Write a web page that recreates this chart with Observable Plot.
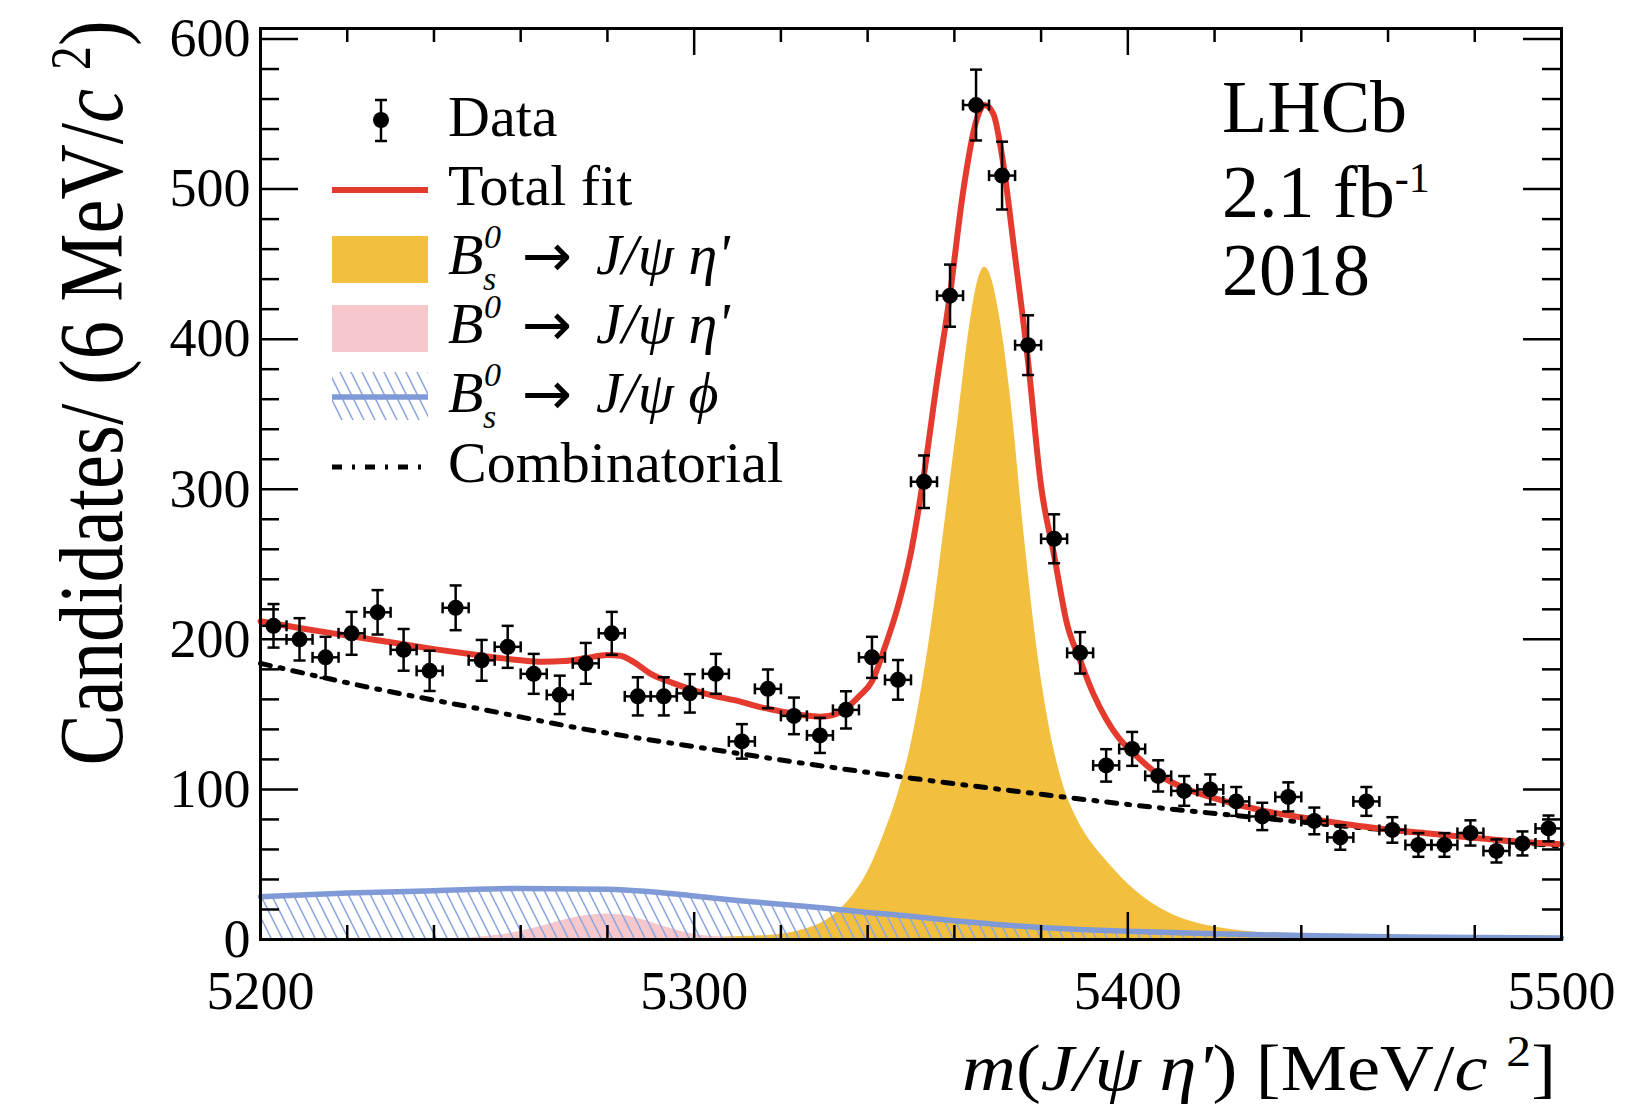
<!DOCTYPE html>
<html>
<head>
<meta charset="utf-8">
<script src="https://cdn.jsdelivr.net/npm/d3@7"></script>
<script src="https://cdn.jsdelivr.net/npm/@observablehq/plot@0.6"></script>
<style>
  html, body { margin: 0; padding: 0; background: #fff; }
  #chart { width: 1635px; height: 1106px; }
</style>
</head>
<body>
<div id="chart"></div>
<script>
// ---------------- data ----------------
const massBins = [5203,5209,5215,5221,5227,5233,5239,5245,5251,5257,5263,5269,5275,5281,5287,5293,5299,5305,5311,5317,5323,5329,5335,5341,5347,5353,5359,5365,5371,5377,5383,5389,5395,5401,5407,5413,5419,5425,5431,5437,5443,5449,5455,5461,5467,5473,5479,5485,5491,5497];
const candidates = [209,200,188,204,218,193,179,221,186,195,177,163,184,204,162,162,164,177,132,167,149,136,153,188,173,305,429,556,509,396,267,191,116,127,109,99,100,92,82,95,79,68,92,73,63,63,71,59,64,74];
const candErr = [14.5,14.1,13.7,14.3,14.8,13.9,13.4,14.9,13.6,14.0,13.3,12.8,13.6,14.3,12.7,12.7,12.8,13.3,11.5,12.9,12.2,11.7,12.4,13.7,13.2,17.5,20.7,23.6,22.6,19.9,16.3,13.8,10.8,11.3,10.4,9.9,10.0,9.6,9.1,9.7,8.9,8.2,9.6,8.5,7.9,7.9,8.4,7.7,8.0,8.6];
const binHalfWidth = 3;

const totalX = [5200,5210,5220,5230,5240,5250,5260,5265,5270,5275,5280,5283,5286,5290,5295,5300,5305,5310,5315,5320,5325,5329,5332,5335,5338,5341,5344,5347,5350,5353,5356,5359,5362,5365,5367,5369,5371,5374,5377,5380,5383,5386,5389,5392,5395,5398,5401,5407,5413,5419,5425,5431,5443,5450,5461,5470,5479,5491,5500];
const totalY = [212,207,202.5,198,193.5,189.5,186,185,185.5,187.5,189.5,189,185,177,171,166,162,159,155,152,149.5,148.5,149.5,154,162,172,195,222,258,310,372,430,498,545,556,550,522,455,385,302,256,210,186,164,147,134,125,110,101,95,90,86,80,77,73,70.5,68,65,63.5];

const signalX = [5290,5300,5310,5316,5320,5325,5330,5334,5337,5340,5344,5347,5350,5354,5358,5361,5364,5365.5,5367,5368.5,5370,5373,5376,5379,5382,5385,5388,5391,5394,5398,5402,5408,5413,5418,5425,5431,5440,5450,5460,5480,5500];
const signalY = [0.5,1,2,2.5,3.5,6.5,12,21,31,45,72,97,130,195,282,350,418,440,448,441,422,360,272,195,140,104,82,67,56,43,32,20,13.5,9.5,6.2,4.5,2.8,1.8,1.2,0.6,0.3];

const b0X = [5240,5250,5255,5260,5265,5270,5275,5280,5285,5290,5295,5300,5305,5310,5320];
const b0Y = [0.3,1.5,3,5.5,9,13,16,17,15.5,11.5,7,3.5,1.8,0.8,0.2];

const phiX = [5200,5220,5240,5260,5280,5290,5300,5310,5320,5330,5340,5350,5360,5370,5380,5390,5400,5420,5440,5460,5480,5500];
const phiY = [28.5,31,32.5,34,33.5,31.8,29,26,23.5,21,18,15.5,12.5,10,8,6.5,5.5,3.8,2.7,1.9,1.3,1];

const combX = [5200,5225,5250,5275,5300,5325,5350,5375,5400,5425,5450,5475,5500];
const combY = [184,168,154,140,128.5,117.5,107.5,98.5,90,82.5,75.5,69,62];

const xTickLabels = [5200,5300,5400,5500];
const yTickLabels = [0,100,200,300,400,500,600];
const legendLabels = ["Data","Total fit","B_s^0 → J/ψ η'","B^0 → J/ψ η'","B_s^0 → J/ψ ϕ","Combinatorial"];

// ---------------- tables ----------------
const points = massBins.map((m, i) => ({m, n: candidates[i], e: candErr[i]}));
const toXY = (xs, ys) => xs.map((x, i) => ({x, y: ys[i]}));
const total = toXY(totalX, totalY);
const signal = toXY(signalX, signalY);
const b0 = toXY(b0X, b0Y);
const phi = toXY(phiX, phiY);
const comb = toXY(combX, combY);

const xMinor = d3.range(5220, 5500, 20).filter(v => v % 100 !== 0);
const yMinor = d3.range(20, 607, 20).filter(v => v % 100 !== 0);

// ---------------- layout ----------------
const W = 1635, H = 1106;
const mL = 260, mR = 74, mT = 28, mB = 167;
const plotW = W - mL - mR, plotH = H - mT - mB;
const FONT = "'Liberation Serif', 'Times New Roman', serif";
const ARROWFONT = "'DejaVu Sans', sans-serif";

const RED = "#e53b2e", YEL = "#f3bf3f", PINK = "#f6c8cb", BLUE = "#7f9ad6", HATCH = "#8ea6de";

const capH = {draw(ctx) { ctx.moveTo(-6, 0); ctx.lineTo(6, 0); }};
const capV = {draw(ctx) { ctx.moveTo(0, -5.5); ctx.lineTo(0, 5.5); }};

const svg = Plot.plot({
  width: W, height: H,
  marginLeft: mL, marginRight: mR, marginTop: mT, marginBottom: mB,
  x: {domain: [5200, 5500]},
  y: {domain: [0, 607]},
  style: {fontFamily: FONT, background: "white", color: "black"},
  marks: [
    Plot.areaY(signal, {x: "x", y: "y", fill: YEL, curve: "monotone-x"}),
    Plot.areaY(b0, {x: "x", y: "y", fill: PINK, curve: "monotone-x"}),
    Plot.areaY(phi, {x: "x", y: "y", fill: "url(#hatchPhi)", curve: "monotone-x"}),
    Plot.lineY(phi, {x: "x", y: "y", stroke: BLUE, strokeWidth: 5.5, curve: "monotone-x"}),
    Plot.lineY(comb, {x: "x", y: "y", stroke: "black", strokeWidth: 5, strokeDasharray: "10,10,3,10", curve: "monotone-x"}),
    Plot.lineY(total, {x: "x", y: "y", stroke: RED, strokeWidth: 6, curve: "monotone-x", strokeLinejoin: "round"}),
    // data error bars
    Plot.ruleX(points, {x: "m", y1: d => d.n - d.e, y2: d => d.n + d.e, stroke: "black", strokeWidth: 2.5}),
    Plot.ruleY(points, {y: "n", x1: d => d.m - binHalfWidth, x2: d => d.m + binHalfWidth, stroke: "black", strokeWidth: 2.5}),
    Plot.dot(points, {x: "m", y: d => d.n + d.e, symbol: capH, stroke: "black", strokeWidth: 2.5, fill: "none"}),
    Plot.dot(points, {x: "m", y: d => d.n - d.e, symbol: capH, stroke: "black", strokeWidth: 2.5, fill: "none"}),
    Plot.dot(points, {x: d => d.m - binHalfWidth, y: "n", symbol: capV, stroke: "black", strokeWidth: 2.5, fill: "none"}),
    Plot.dot(points, {x: d => d.m + binHalfWidth, y: "n", symbol: capV, stroke: "black", strokeWidth: 2.5, fill: "none"}),
    Plot.dot(points, {x: "m", y: "n", r: 8, fill: "black", stroke: "none"}),
    // inward ticks on all four sides
    Plot.ruleX(xTickLabels, {x: d => d, insetTop: plotH - 27, stroke: "black", strokeWidth: 2.5}),
    Plot.ruleX(xTickLabels, {x: d => d, insetBottom: plotH - 27, stroke: "black", strokeWidth: 2.5}),
    Plot.ruleX(xMinor, {x: d => d, insetTop: plotH - 14, stroke: "black", strokeWidth: 2.5}),
    Plot.ruleX(xMinor, {x: d => d, insetBottom: plotH - 14, stroke: "black", strokeWidth: 2.5}),
    Plot.ruleY(yTickLabels, {y: d => d, insetRight: plotW - 38, stroke: "black", strokeWidth: 2.5}),
    Plot.ruleY(yTickLabels, {y: d => d, insetLeft: plotW - 38, stroke: "black", strokeWidth: 2.5}),
    Plot.ruleY(yMinor, {y: d => d, insetRight: plotW - 19, stroke: "black", strokeWidth: 2.5}),
    Plot.ruleY(yMinor, {y: d => d, insetLeft: plotW - 19, stroke: "black", strokeWidth: 2.5}),
    Plot.frame({stroke: "black", strokeWidth: 3}),
    Plot.axisX({ticks: xTickLabels, tickSize: 0, tickPadding: 31, fontSize: 54, fontFamily: FONT, tickFormat: d => String(d), label: null}),
    Plot.axisY({ticks: yTickLabels, tickSize: 0, tickPadding: 10, fontSize: 54, fontFamily: FONT, tickFormat: d => String(d), label: null})
  ]
});

document.getElementById("chart").append(svg);
const S = d3.select(svg);

// hatch pattern for B_s -> J/psi phi
const defs = S.insert("defs", ":first-child");
const pat = defs.append("pattern").attr("id", "hatchPhi")
  .attr("patternUnits", "userSpaceOnUse").attr("width", 11).attr("height", 22);
pat.append("path").attr("d", "M0,0L11,22M-11,0L0,22M11,0L22,22")
  .attr("stroke", HATCH).attr("stroke-width", 1.6).attr("fill", "none");

// rich text helper
function rich(parent, parts, attrs = {}) {
  const t = parent.append("text").attr("font-family", FONT).attr("fill", "black").attr("text-anchor", "start");
  for (const [k, v] of Object.entries(attrs)) t.attr(k, v);
  for (const p of parts) {
    const s = t.append("tspan").text(p.t);
    if (p.it) s.attr("font-style", "italic");
    if (p.size) s.attr("font-size", p.size);
    if (p.ff) s.attr("font-family", p.ff);
    if (p.x != null) s.attr("x", p.x);
    if (p.y != null) s.attr("y", p.y);
    if (p.dy != null) s.attr("dy", p.dy);
  }
  return t;
}

// ---------------- legend ----------------
const L = S.append("g");
const lx0 = 332, lx1 = 428, tx = 448, LS = 58;
// Data
L.append("line").attr("x1", 381).attr("x2", 381).attr("y1", 100).attr("y2", 141).attr("stroke", "black").attr("stroke-width", 2.5);
L.append("line").attr("x1", 375).attr("x2", 387).attr("y1", 100).attr("y2", 100).attr("stroke", "black").attr("stroke-width", 2.5);
L.append("line").attr("x1", 375).attr("x2", 387).attr("y1", 141).attr("y2", 141).attr("stroke", "black").attr("stroke-width", 2.5);
L.append("circle").attr("cx", 381).attr("cy", 120).attr("r", 8).attr("fill", "black");
rich(L, [{t: legendLabels[0]}], {x: tx, y: 136, "font-size": LS});
// Total fit
L.append("line").attr("x1", lx0).attr("x2", lx1).attr("y1", 190).attr("y2", 190).attr("stroke", RED).attr("stroke-width", 6);
rich(L, [{t: legendLabels[1]}], {x: tx, y: 205, "font-size": LS});
// Bs -> J/psi eta'
L.append("rect").attr("x", lx0).attr("y", 236).attr("width", lx1 - lx0).attr("height", 47).attr("fill", YEL);
rich(L, [
  {t: "B", it: true, x: tx, y: 274},
  {t: "0", it: true, size: 34, x: 484, y: 248},
  {t: "s", it: true, size: 34, x: 483, y: 290},
  {t: "→", ff: ARROWFONT, size: 60, x: 522, y: 276},
  {t: "J/ψ η'", it: true, x: 596, y: 274}
], {"font-size": LS});
// B0 -> J/psi eta'
L.append("rect").attr("x", lx0).attr("y", 305).attr("width", lx1 - lx0).attr("height", 47).attr("fill", PINK);
rich(L, [
  {t: "B", it: true, x: tx, y: 343},
  {t: "0", it: true, size: 34, x: 484, y: 318},
  {t: "→", ff: ARROWFONT, size: 60, x: 522, y: 345},
  {t: "J/ψ η'", it: true, x: 596, y: 343}
], {"font-size": LS});
// Bs -> J/psi phi
L.append("rect").attr("x", lx0).attr("y", 372).attr("width", lx1 - lx0).attr("height", 48).attr("fill", "url(#hatchPhi)");
L.append("line").attr("x1", lx0).attr("x2", lx1).attr("y1", 397).attr("y2", 397).attr("stroke", BLUE).attr("stroke-width", 5.5);
rich(L, [
  {t: "B", it: true, x: tx, y: 412},
  {t: "0", it: true, size: 34, x: 484, y: 386},
  {t: "s", it: true, size: 34, x: 483, y: 428},
  {t: "→", ff: ARROWFONT, size: 60, x: 522, y: 414},
  {t: "J/ψ ϕ", it: true, x: 596, y: 412}
], {"font-size": LS});
// Combinatorial
L.append("line").attr("x1", lx0).attr("x2", lx1).attr("y1", 467).attr("y2", 467).attr("stroke", "black").attr("stroke-width", 5).attr("stroke-dasharray", "10,10,3,10");
rich(L, [{t: legendLabels[5]}], {x: tx, y: 482, "font-size": LS});

// ---------------- LHCb label ----------------
rich(S, [{t: "LHCb"}], {x: 1222, y: 132, "font-size": 74});
rich(S, [{t: "2.1 fb"}, {t: "-1", size: 42, dy: -25}], {x: 1222, y: 217, "font-size": 74});
rich(S, [{t: "2018"}], {x: 1222, y: 295, "font-size": 74});

// ---------------- axis titles ----------------
const xt = rich(S, [
  {t: "m", it: true}, {t: "("}, {t: "J/ψ η'", it: true}, {t: ") [MeV/"}, {t: "c", it: true},
  {t: " "}, {t: "2", size: 44, dy: -24}, {t: "]", dy: 24}
], {"font-size": 66, "text-anchor": "end", x: 0, y: 0});
{
  const w = xt.node().getBBox().width;
  xt.attr("transform", `translate(1556,1090) scale(${594 / w},1)`);
}
const yt = rich(S, [
  {t: "Candidates/ (6 MeV/"}, {t: "c", it: true}, {t: " "}, {t: "2", size: 56, dy: -32}, {t: ")", dy: 32}
], {"font-size": 90, "text-anchor": "middle", x: 0, y: 0});
{
  const w = yt.node().getBBox().width;
  yt.attr("transform", `translate(122,393) rotate(-90) scale(${745 / w},1)`);
}
</script>
</body>
</html>
